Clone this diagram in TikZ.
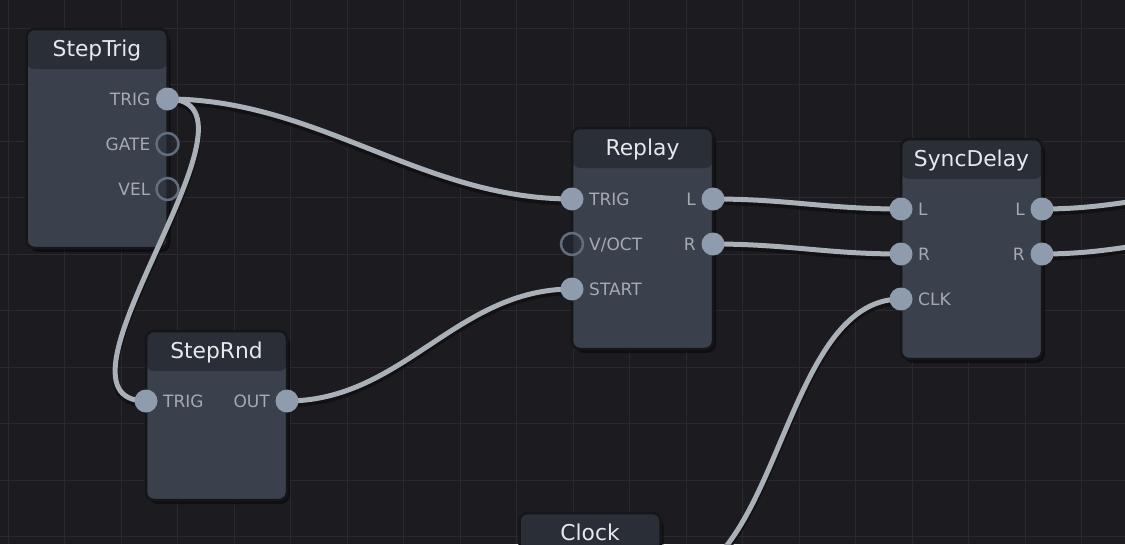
\documentclass[tikz,border=0pt]{standalone}
\usepackage{fontspec}
\setmainfont{DejaVu Sans}
\pgfdeclarelayer{bglayer}
\pgfdeclarelayer{shadowlayer}
\pgfdeclarelayer{modlayer}
\pgfdeclarelayer{wirelayer}
\pgfsetlayers{bglayer,shadowlayer,modlayer,wirelayer,main}
\definecolor{bgc}{HTML}{1C1C20}
\definecolor{gridc}{HTML}{29292F}
\definecolor{bodyc}{HTML}{3A414C}
\definecolor{headc}{HTML}{2A2E36}
\definecolor{borderc}{HTML}{15161A}
\definecolor{titlec}{HTML}{E6E8EB}
\definecolor{labelc}{HTML}{A5AAB2}
\definecolor{portc}{HTML}{8F9CAD}
\definecolor{ringc}{HTML}{636D7C}
\definecolor{wirec}{HTML}{A9B0B8}
\definecolor{wireshc}{HTML}{0E0E11}
\tikzset{
  gridline/.style={draw=gridc, line width=1pt},
  module/.style={draw=borderc, line width=2.5pt, rounded corners=8pt, fill=bodyc,
    inner sep=0pt, outer sep=0pt, anchor=north west, minimum width=141pt,
    path picture={\fill[headc] ([yshift=2pt]path picture bounding box.north west) rectangle ([yshift=-40pt]path picture bounding box.north east);}},
  modshadow/.style={fill=black, opacity=0.45, rounded corners=9pt},
  modtitle/.style={anchor=base, inner sep=0pt, text=titlec, font=\fontsize{21.8}{26}\selectfont},
  inlabel/.style={anchor=base west, inner sep=0pt, text=labelc, font=\fontsize{17}{20}\selectfont},
  outlabel/.style={anchor=base east, inner sep=0pt, text=labelc, font=\fontsize{17}{20}\selectfont},
  port/.style={circle, fill=portc, minimum size=23pt, inner sep=0pt},
  freeport/.style={circle, draw=ringc, line width=2.5pt, fill=headc, fill opacity=0.55, minimum size=22pt, inner sep=0pt},
  wire/.style={draw=wirec, line width=5pt},
  wireshadow/.style={draw=wireshc, line width=5.5pt, opacity=0.75},
}
\newcommand{\modshade}[1]{%
  \begin{pgfonlayer}{shadowlayer}
    \fill[modshadow] ([shift={(3pt,-4pt)}]#1.north west) rectangle ([shift={(3pt,-4pt)}]#1.south east);
  \end{pgfonlayer}}
\newcommand{\wireconn}[3]{%
  \begin{pgfonlayer}{wirelayer}
    \draw[wireshadow] ([yshift=-3.5pt]#1.center) .. controls +(#3,0) and +(-#3,0) .. ([yshift=-3.5pt]#2.center);
    \draw[wire] (#1.center) .. controls +(#3,0) and +(-#3,0) .. (#2.center);
  \end{pgfonlayer}}
\begin{document}
\begin{tikzpicture}[x=1pt,y=-1pt]
\useasboundingbox (0,0) rectangle (1125,544);
\begin{pgfonlayer}{bglayer}
  \fill[bgc] (0,0) rectangle (1125,544);
  \foreach \i in {0,...,19} {\draw[gridline] ({8.3+56.5*\i},0) -- ({8.3+56.5*\i},544);}
  \foreach \j in {0,...,9} {\draw[gridline] (0,{28+56.5*\j}) -- (1125,{28+56.5*\j});}
\end{pgfonlayer}

% modules
\begin{pgfonlayer}{modlayer}
  \node[module, minimum height=219pt] (st) at (26.5,29) {};
  \node[modtitle] (st-title) at ([yshift=-27pt]st.north) {StepTrig};
  \node[module, minimum height=221pt] (rp) at (572,128) {};
  \node[modtitle] (rp-title) at ([yshift=-27pt]rp.north) {Replay};
  \node[module, minimum height=220pt] (sd) at (901,139) {};
  \node[modtitle] (sd-title) at ([yshift=-27pt]sd.north) {SyncDelay};
  \node[module, minimum height=169pt] (sr) at (146,331) {};
  \node[modtitle] (sr-title) at ([yshift=-27pt]sr.north) {StepRnd};
  \node[module, minimum height=200pt] (ck) at (519.5,513) {};
  \node[modtitle] (ck-title) at ([yshift=-27pt]ck.north) {Clock};
\end{pgfonlayer}
\modshade{st}\modshade{rp}\modshade{sd}\modshade{sr}\modshade{ck}

% ports
\node[port] (st-trig) at (167.5,99) {};
\node[freeport] (st-gate) at (167.5,144) {};
\node[freeport] (st-vel) at (167.5,189) {};
\node[outlabel] (st-trig-l) at ([xshift=-17pt,yshift=-6pt]st-trig.center) {TRIG};
\node[outlabel] (st-gate-l) at ([xshift=-17pt,yshift=-6pt]st-gate.center) {GATE};
\node[outlabel] (st-vel-l) at ([xshift=-17pt,yshift=-6pt]st-vel.center) {VEL};

\node[port] (rp-trig) at (572,199) {};
\node[freeport] (rp-voct) at (572,244) {};
\node[port] (rp-start) at (572,289) {};
\node[port] (rp-l) at (713,199) {};
\node[port] (rp-r) at (713,244) {};
\node[inlabel] (rp-trig-l) at ([xshift=17pt,yshift=-6pt]rp-trig.center) {TRIG};
\node[inlabel] (rp-voct-l) at ([xshift=17pt,yshift=-6pt]rp-voct.center) {V/OCT};
\node[inlabel] (rp-start-l) at ([xshift=17pt,yshift=-6pt]rp-start.center) {START};
\node[outlabel] (rp-l-l) at ([xshift=-17pt,yshift=-6pt]rp-l.center) {L};
\node[outlabel] (rp-r-l) at ([xshift=-17pt,yshift=-6pt]rp-r.center) {R};

\node[port] (sd-inl) at (901,209) {};
\node[port] (sd-inr) at (901,254) {};
\node[port] (sd-clk) at (901,299) {};
\node[port] (sd-outl) at (1042,209) {};
\node[port] (sd-outr) at (1042,254) {};
\node[inlabel] (sd-inl-l) at ([xshift=17pt,yshift=-6pt]sd-inl.center) {L};
\node[inlabel] (sd-inr-l) at ([xshift=17pt,yshift=-6pt]sd-inr.center) {R};
\node[inlabel] (sd-clk-l) at ([xshift=17pt,yshift=-6pt]sd-clk.center) {CLK};
\node[outlabel] (sd-outl-l) at ([xshift=-17pt,yshift=-6pt]sd-outl.center) {L};
\node[outlabel] (sd-outr-l) at ([xshift=-17pt,yshift=-6pt]sd-outr.center) {R};

\node[port] (sr-trig) at (146,401) {};
\node[port] (sr-out) at (287,401) {};
\node[inlabel] (sr-trig-l) at ([xshift=17pt,yshift=-6pt]sr-trig.center) {TRIG};
\node[outlabel] (sr-out-l) at ([xshift=-17pt,yshift=-6pt]sr-out.center) {OUT};

\coordinate (ck-out) at (660.5,583);
\coordinate (dest-l) at (1240,191);
\coordinate (dest-r) at (1240,236);

% wires
\wireconn{st-trig}{rp-trig}{150}
\wireconn{st-trig}{sr-trig}{115}
\wireconn{sr-out}{rp-start}{116}
\wireconn{rp-l}{sd-inl}{75}
\wireconn{rp-r}{sd-inr}{75}
\wireconn{ck-out}{sd-clk}{120}
\wireconn{sd-outl}{dest-l}{80}
\wireconn{sd-outr}{dest-r}{80}
\end{tikzpicture}
\end{document}
